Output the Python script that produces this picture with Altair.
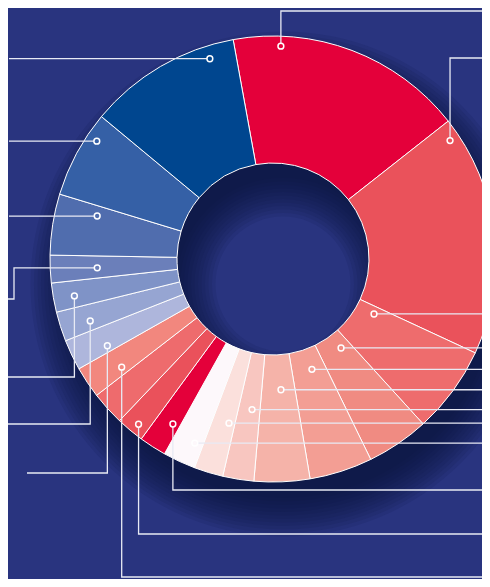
import math
import altair as alt
import pandas as pd

# ---- data: segment shares (clockwise, starting with the top red segment) ----
shares = [17.25, 17.53, 6.33, 4.53, 4.56, 4.03, 2.25, 2.11, 2.36, 1.97,
          2.03, 2.44, 2.28, 2.22, 2.14, 2.11, 2.00, 4.42, 6.33, 11.11]
colors = ["#E4003A", "#EA525B", "#EE6C6D", "#F08B82", "#F39E94", "#F5B3A9",
          "#F8C6C0", "#FBE0DC", "#FDF8FB", "#E4003A", "#EA515B", "#EE6B6D",
          "#F2877E", "#AEB6DC", "#96A5D2", "#7F93C7", "#6B7FBA", "#506DAE",
          "#3560A6", "#00468F"]

# ---- layout ----
W, H = 474, 571
CX, CY = 265, 251
R_OUT, R_IN = 223, 96
START_DEG = -10.3
BG = "#29347F"
LINE = "#E8EAF4"

# leader: segment index, position inside segment (0..1), radius, route
leaders = [
    (0, 0.20, 213, [("v", 3), ("h", W)]),
    (1, 0.07, 213, [("v", 50), ("h", W)]),
    (2, 0.16, 115, [("h", W)]),
    (3, 0.30, 112, [("h", W)]),
    (4, 0.40, 117, [("h", W)]),
    (5, 0.42, 131, [("h", W)]),
    (6, 0.37, 152, [("h", W)]),
    (7, 0.26, 170, [("h", W)]),
    (8, 0.28, 200, [("h", W)]),
    (9, 0.30, 193, [("v", 482), ("h", W)]),
    (10, 0.40, 213, [("v", 526), ("h", W)]),
    (12, 0.26, 186, [("v", 569), ("h", W)]),
    (13, 0.23, 187, [("v", 465), ("h", 19)]),
    (14, 0.36, 193, [("v", 416), ("h", 0)]),
    (15, 0.43, 202, [("v", 369), ("h", 0)]),
    (16, 0.46, 176, [("h", 6), ("v", 291), ("h", 0)]),
    (17, 0.80, 181, [("h", 1)]),
    (18, 0.74, 212, [("h", 1)]),
    (19, 0.82, 210, [("h", 1)]),
]

total = sum(shares)
seg = pd.DataFrame({"idx": range(len(shares)), "share": shares, "color": colors})

cum = [0]
for s in shares:
    cum.append(cum[-1] + s)

line_rows, pt_rows = [], []
for li, (si, frac, r, route) in enumerate(leaders):
    ang = math.radians(START_DEG + (cum[si] + frac * shares[si]) / total * 360)
    x, y = CX + r * math.sin(ang), CY - r * math.cos(ang)
    pts = [(x, y)]
    for kind, v in route:
        if kind == "h":
            x = v
        else:
            y = v
        pts.append((x, y))
    for k, (px, py) in enumerate(pts):
        line_rows.append({"lid": li, "k": k, "x": px, "y": py})
    pt_rows.append({"x": pts[0][0], "y": pts[0][1], "color": colors[si]})

lines = pd.DataFrame(line_rows)
anchors = pd.DataFrame(pt_rows)

# soft shadow rings
shadow = pd.DataFrame({
    "ro": [214 + 3.5 * k for k in range(12)],
    "ri": [106 - 3.5 * k for k in range(12)],
})

xs = alt.Scale(domain=[0, W], nice=False, zero=False)
ys = alt.Scale(domain=[0, H], nice=False, zero=False, reverse=True)
a0 = math.radians(START_DEG)

shadow_layer = alt.Chart(shadow).mark_arc(
    theta=0, theta2=2 * math.pi, color="#0D1136", opacity=0.1
).encode(
    x=alt.X(datum=CX + 10, type="quantitative", scale=xs, axis=None),
    y=alt.Y(datum=CY + 25, type="quantitative", scale=ys, axis=None),
    radius=alt.Radius("ro:Q", scale=None),
    radius2=alt.Radius2("ri:Q"),
)

donut = alt.Chart(seg).mark_arc(
    radius=R_OUT, radius2=R_IN, stroke="white", strokeWidth=1
).encode(
    x=alt.X(datum=CX, type="quantitative", scale=xs, axis=None),
    y=alt.Y(datum=CY, type="quantitative", scale=ys, axis=None),
    theta=alt.Theta("share:Q", stack=True,
                    scale=alt.Scale(domain=[0, total], range=[a0, a0 + 2 * math.pi])),
    order=alt.Order("idx:Q", sort="ascending"),
    color=alt.Color("color:N", scale=None),
)

leader_lines = alt.Chart(lines).mark_line(color=LINE, strokeWidth=1.3).encode(
    x=alt.X("x:Q", scale=xs, axis=None),
    y=alt.Y("y:Q", scale=ys, axis=None),
    detail="lid:N",
    order="k:Q",
)

dots = alt.Chart(anchors).mark_point(
    shape="circle", size=34, filled=True, stroke="white", strokeWidth=1.5, opacity=1
).encode(
    x=alt.X("x:Q", scale=xs, axis=None),
    y=alt.Y("y:Q", scale=ys, axis=None),
    fill=alt.Fill("color:N", scale=None),
)

chart = alt.layer(shadow_layer, donut, leader_lines, dots).properties(
    width=W, height=H, padding=0, background=BG,
    autosize=alt.AutoSizeParams(type="none", contains="padding"),
).configure_view(stroke=None, clip=True)

chart.save("out.html", embed_options={"renderer": "svg", "actions": False})
